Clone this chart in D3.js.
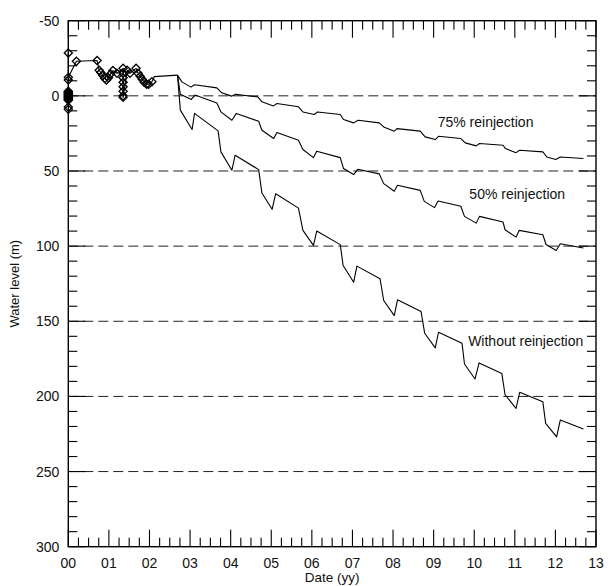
<!DOCTYPE html>
<html>
<head>
<meta charset="utf-8">
<script src="https://cdn.jsdelivr.net/npm/d3@7/dist/d3.min.js"></script>
<style>
  html, body { margin: 0; padding: 0; background: #fff; }
  svg { display: block; }
  text { font-family: "Liberation Sans", Arial, sans-serif; fill: #111; }
</style>
</head>
<body>
<svg id="chart" width="609" height="586"></svg>
<script>
// Observed water levels (years since 2000, metres below reference)
const observed = [
  [0.00, 9.0], [0.00, 7.5], [0.00, 3.0], [0.00, 2.5], [0.00, 2.0], [0.00, 1.5], [0.00, 1.0],
  [0.00, 0.5], [0.00, 0.0], [0.00, -0.5], [0.00, -1.0], [0.00, -1.5], [0.00, -2.0],
  [0.00, -2.5], [0.00, -3.0],
  [0.00, -28.5], [0.00, -10.5], [0.00, -12.3],
  [0.20, -23.0], [0.71, -23.5], [0.76, -17.0], [0.80, -15.5], [0.85, -13.5],
  [0.90, -11.5], [0.94, -10.5], [0.99, -12.0], [1.04, -14.5], [1.10, -16.8],
  [1.20, -15.0], [1.35, -18.3], [1.35, -15.0], [1.35, -12.0], [1.35, -9.0],
  [1.35, -6.0], [1.35, -3.0], [1.35, 0.0], [1.35, 1.0], [1.45, -17.0],
  [1.52, -15.0], [1.67, -18.3], [1.72, -15.0], [1.77, -13.0], [1.82, -11.0],
  [1.87, -9.0], [1.93, -7.7], [1.98, -7.7], [2.06, -9.4]
];

// Simulated period before the scenarios separate
const history = [[2.06, -9.4], [2.12, -12.8], [2.69, -13.8]];

// Scenario: 75% reinjection
const reinj75 = [
  [2.69, -13.8], [2.80, -9.3], [3.02, -5.8], [3.11, -7.4], [3.66, -5.3], [3.78, -2.0],
  [4.02, 0.2], [4.12, -1.0], [4.67, 0.7], [4.77, 4.0], [5.05, 6.7], [5.14, 5.1],
  [5.67, 7.3], [5.78, 10.7], [6.06, 12.4], [6.14, 10.7], [6.70, 12.4], [6.78, 15.7],
  [7.03, 18.0], [7.14, 16.2], [7.66, 18.0], [7.77, 20.7], [8.03, 23.5], [8.10, 21.8],
  [8.67, 23.5], [8.79, 27.3], [9.04, 29.1], [9.12, 26.9], [9.67, 28.4], [9.78, 31.3],
  [10.05, 33.3], [10.13, 31.7], [10.71, 32.9], [10.77, 35.1], [11.03, 37.8], [11.12, 36.2],
  [11.69, 37.3], [11.79, 40.7], [12.01, 42.4], [12.12, 40.7], [12.69, 41.7]
];

// Scenario: 50% reinjection
const reinj50 = [
  [2.69, -13.8], [2.76, -1.0], [3.03, 2.4], [3.12, -0.5], [3.66, 4.7], [3.76, 10.7],
  [4.03, 16.2], [4.14, 11.7], [4.69, 16.9], [4.77, 22.9], [5.06, 28.4], [5.14, 24.4],
  [5.67, 29.5], [5.78, 35.7], [6.04, 41.1], [6.12, 36.9], [6.70, 41.1], [6.78, 48.4],
  [7.03, 52.4], [7.13, 48.9], [7.66, 51.9], [7.77, 58.4], [8.03, 63.5], [8.11, 59.5],
  [8.67, 62.9], [8.77, 70.2], [9.02, 74.4], [9.11, 70.0], [9.67, 73.5], [9.76, 80.2],
  [10.05, 84.7], [10.13, 80.2], [10.71, 84.0], [10.76, 89.1], [11.03, 94.0], [11.11, 89.5],
  [11.69, 92.4], [11.77, 98.9], [12.02, 102.9], [12.12, 98.4], [12.69, 101.3]
];

// Scenario: without reinjection
const noReinj = [
  [2.69, -13.8], [2.76, 9.5], [3.05, 22.4], [3.11, 11.7], [3.69, 23.3], [3.76, 37.3],
  [4.03, 49.5], [4.11, 39.5], [4.69, 49.1], [4.77, 64.7], [5.02, 75.5], [5.11, 65.1],
  [5.67, 74.7], [5.78, 89.5], [6.04, 99.5], [6.12, 90.0], [6.70, 99.0], [6.77, 112.9],
  [7.03, 124.0], [7.11, 113.3], [7.68, 121.7], [7.77, 136.2], [8.03, 146.2], [8.11, 135.7],
  [8.69, 143.5], [8.78, 158.0], [9.04, 167.7], [9.12, 157.3], [9.70, 164.7], [9.76, 178.4],
  [10.02, 188.4], [10.12, 177.7], [10.68, 184.7], [10.76, 198.9], [11.03, 208.0], [11.12, 197.3],
  [11.69, 203.5], [11.76, 218.0], [12.03, 226.9], [12.12, 215.7], [12.69, 221.7]
];

// Axis ticks and labels
const yearTicks = d3.range(0, 14);
const yearLabels = ["00","01","02","03","04","05","06","07","08","09","10","11","12","13"];
const levelTicks = [-50, 0, 50, 100, 150, 200, 250, 300];
const gridLevels = [0, 50, 100, 150, 200, 250];

// Scenario labels: text and the level/year at which each sits
const scenarioLabels = [
  { text: "75% reinjection", year: 9.1, level: 21.0 },
  { text: "50% reinjection", year: 9.88, level: 68.5 },
  { text: "Without reinjection", year: 9.85, level: 166.5 }
];

(function draw() {
  const svg = d3.select("#chart");
  const pl = 68.3, pr = 596, pt = 20.7, pb = 546.7;

  const x = d3.scaleLinear().domain([0, 13]).range([pl, pr]);
  const y = d3.scaleLinear().domain([-50, 300]).range([pt, pb]);

  // Dashed horizontal grid
  svg.append("g").selectAll("line").data(gridLevels).join("line")
    .attr("x1", pl).attr("x2", pr)
    .attr("y1", d => y(d)).attr("y2", d => y(d))
    .attr("stroke", "#222").attr("stroke-width", 1)
    .attr("stroke-dasharray", "10,5");

  // Inward ticks on all four sides
  const majorLen = 17, minorLen = 9;
  const xMinor = d3.range(0, 13.001, 0.25);
  const yMinor = d3.range(-50, 300.001, 10);
  const ticks = svg.append("g").attr("stroke", "#000").attr("stroke-width", 1.1);
  xMinor.forEach(v => {
    const len = Math.abs(v - Math.round(v)) < 1e-6 ? majorLen : minorLen;
    ticks.append("line").attr("x1", x(v)).attr("x2", x(v)).attr("y1", pb).attr("y2", pb - len);
    ticks.append("line").attr("x1", x(v)).attr("x2", x(v)).attr("y1", pt).attr("y2", pt + len);
  });
  yMinor.forEach(v => {
    const len = (Math.round(v) % 50 === 0) ? majorLen : minorLen;
    ticks.append("line").attr("x1", pl).attr("x2", pl + len).attr("y1", y(v)).attr("y2", y(v));
    ticks.append("line").attr("x1", pr).attr("x2", pr - len).attr("y1", y(v)).attr("y2", y(v));
  });

  // Frame
  svg.append("rect")
    .attr("x", pl).attr("y", pt)
    .attr("width", pr - pl).attr("height", pb - pt)
    .attr("fill", "none").attr("stroke", "#000").attr("stroke-width", 1.4);

  // Tick labels
  svg.append("g").selectAll("text").data(levelTicks).join("text")
    .attr("x", pl - 9).attr("y", d => y(d)).attr("dy", "0.36em")
    .attr("text-anchor", "end").attr("font-size", 14)
    .text(d => d);
  svg.append("g").selectAll("text").data(yearTicks).join("text")
    .attr("x", d => x(d)).attr("y", pb + 21)
    .attr("text-anchor", "middle").attr("font-size", 14)
    .text((d, i) => yearLabels[i]);

  // Axis titles
  svg.append("text")
    .attr("x", (pl + pr) / 2).attr("y", 582)
    .attr("text-anchor", "middle").attr("font-size", 13.5)
    .text("Date (yy)");
  svg.append("text")
    .attr("transform", `translate(19,${(pt + pb) / 2}) rotate(-90)`)
    .attr("text-anchor", "middle").attr("font-size", 13)
    .text("Water level (m)");

  // Lines
  const line = d3.line().x(d => x(d[0])).y(d => y(d[1]));
  const lines = svg.append("g").attr("fill", "none").attr("stroke", "#000")
    .attr("stroke-width", 1.1).attr("stroke-linejoin", "round");
  const observedTrace = observed.filter(d => d[0] > 0 || d[1] === -28.5 || d[1] === -10.5 || d[1] === -12.3);
  [observedTrace, history, reinj75, reinj50, noReinj].forEach(s => {
    lines.append("path").attr("d", line(s));
  });

  // Observation markers (open diamonds)
  const diamond = d3.symbol().type(d3.symbolDiamond2).size(42);
  svg.append("g").selectAll("path").data(observed).join("path")
    .attr("transform", d => `translate(${x(d[0])},${y(d[1])})`)
    .attr("d", diamond)
    .attr("fill", "none").attr("stroke", "#000").attr("stroke-width", 1.3);

  // Scenario labels
  svg.append("g").selectAll("text").data(scenarioLabels).join("text")
    .attr("x", d => x(d.year)).attr("y", d => y(d.level))
    .attr("font-size", 14)
    .text(d => d.text);
})();
</script>
</body>
</html>
